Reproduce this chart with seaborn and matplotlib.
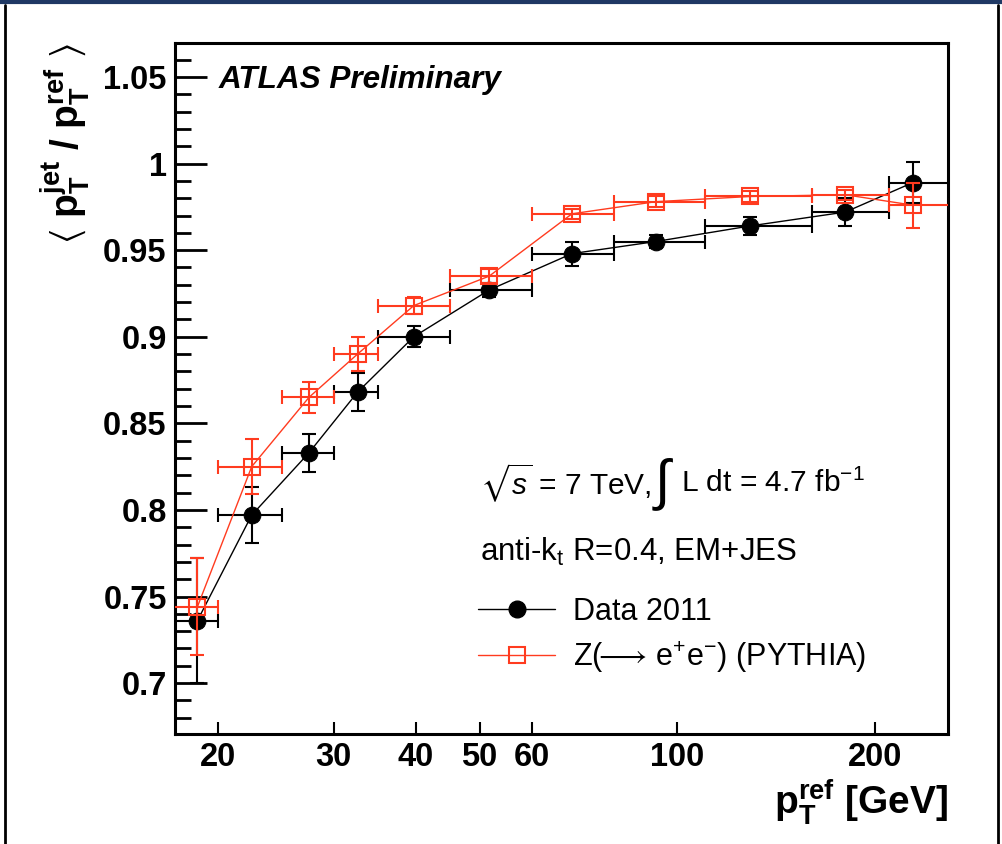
import numpy as np
import matplotlib
matplotlib.use('Agg')
import matplotlib.pyplot as plt
import seaborn as sns
from matplotlib.lines import Line2D
from matplotlib.ticker import NullLocator

# mean pT^ref per bin and the bin edges
pt_ref = [18.6, 22.5, 27.5, 32.6, 39.7, 51.7, 69.1, 92.7, 129, 180, 228]
bin_lo = [17, 20, 25, 30, 35, 45, 60, 80, 110, 160, 210]
bin_hi = [20, 25, 30, 35, 45, 60, 80, 110, 160, 210, 260]

data_2011 = [0.736, 0.797, 0.833, 0.868, 0.900, 0.927, 0.948, 0.955, 0.964, 0.972, 0.989]
data_err = [0.036, 0.016, 0.011, 0.011, 0.006, 0.004, 0.007, 0.004, 0.005, 0.008, 0.012]
pythia = [0.744, 0.825, 0.865, 0.890, 0.918, 0.935, 0.971, 0.978, 0.981, 0.982, 0.976]
pythia_err = [0.028, 0.016, 0.009, 0.010, 0.005, 0.004, 0.003, 0.003, 0.003, 0.003, 0.013]

xticks = [20, 30, 40, 50, 60, 100, 200]
yticks = [0.7, 0.75, 0.8, 0.85, 0.9, 0.95, 1.0, 1.05]

sns.set_theme(style='white')
plt.rcParams['font.family'] = ['Liberation Sans', 'DejaVu Sans']
plt.rcParams['mathtext.fontset'] = 'custom'
plt.rcParams['mathtext.rm'] = 'Liberation Sans'
plt.rcParams['mathtext.it'] = 'Liberation Sans:italic'
plt.rcParams['mathtext.bf'] = 'Liberation Sans:bold'
plt.rcParams['mathtext.fallback'] = 'stix'
for k in ['text.color', 'axes.labelcolor', 'xtick.color', 'ytick.color']:
    plt.rcParams[k] = 'black'

red = '#ff3b1f'

fig = plt.figure(figsize=(10.03, 8.44), dpi=100)
ax = fig.add_axes([0.1745, 0.1303, 0.7707, 0.8187])
ax.set_xscale('log')

x = np.array(pt_ref)
xerr = [x - np.array(bin_lo), np.array(bin_hi) - x]

sns.lineplot(x=pt_ref, y=data_2011, ax=ax, color='black', lw=1, marker='o',
             markersize=12, markeredgecolor='black', zorder=3)
ax.errorbar(pt_ref, data_2011, yerr=data_err, xerr=xerr, fmt='none', ecolor='black',
            elinewidth=1.5, capsize=5, capthick=1.5, zorder=2)

sns.lineplot(x=pt_ref, y=pythia, ax=ax, color=red, lw=1, marker='s', markersize=11,
             markerfacecolor='none', markeredgecolor=red, markeredgewidth=1.5, zorder=4)
ax.errorbar(pt_ref, pythia, yerr=pythia_err, xerr=xerr, fmt='none', ecolor=red,
            elinewidth=1.5, capsize=5, capthick=1.5, zorder=4)

ax.set_xlim(17.2, 258)
ax.set_ylim(0.6706, 1.0696)

ax.set_xticks(xticks, labels=[str(t) for t in xticks], fontweight='bold')
ax.xaxis.set_minor_locator(NullLocator())
ax.set_yticks(yticks, labels=['%g' % t for t in yticks], fontweight='bold')
ax.set_yticks(np.arange(0.68, 1.07, 0.01), minor=True)
ax.tick_params(axis='y', which='major', direction='in', length=23, width=2,
               labelsize=23.5, pad=6, left=True, right=False)
ax.tick_params(axis='y', which='minor', direction='in', length=11.5, width=2, left=True)
ax.tick_params(axis='x', which='major', direction='in', length=9, width=1.5,
               labelsize=23.5, pad=6, bottom=True, top=False)
for s in ax.spines.values():
    s.set_linewidth(2.2)
    s.set_color('black')

ax.set_xlabel(r'$\mathbf{p}_{\mathbf{T}}^{\mathbf{ref}}$ [GeV]', fontsize=28,
              fontweight='bold', loc='right', labelpad=3)
ax.set_ylabel(r'$\langle\ \mathbf{p}_{\mathbf{T}}^{\mathbf{jet}}\ \mathbf{/}\ \mathbf{p}_{\mathbf{T}}^{\mathbf{ref}}\ \rangle$',
              fontsize=28, loc='top', labelpad=8)

ax.text(0.056, 0.946, 'ATLAS Preliminary', transform=ax.transAxes, fontsize=22.7,
        fontweight='bold', style='italic', va='center')
ax.text(0.395, 0.363, r'$\sqrt{s}$ = 7 TeV,', transform=ax.transAxes, fontsize=21.5, va='center')
ax.text(0.621, 0.363, '∫', transform=ax.transAxes, fontsize=40, va='center')
ax.text(0.654, 0.363, r'L dt = 4.7 fb$^{-1}$', transform=ax.transAxes, fontsize=21.5, va='center')
ax.text(0.395, 0.263, r'anti-k$_{\rm t}$ R=0.4, EM+JES', transform=ax.transAxes,
        fontsize=22.5, va='center')

handles = [Line2D([], [], color='black', lw=1, marker='o', markersize=12),
           Line2D([], [], color=red, lw=1, marker='s', markersize=11,
                  markerfacecolor='none', markeredgewidth=1.5)]
ax.legend(handles, ['Data 2011', r'Z($\!\!\longrightarrow\!$ e$^{+}$e$^{-}$) (PYTHIA)'],
          loc='center left', bbox_to_anchor=(0.357, 0.142), frameon=False,
          fontsize=22, handlelength=2.5, handletextpad=0.6, labelspacing=0.4)

# page frame
fig.add_artist(Line2D([0, 1], [0.998, 0.998], color='#1f3864', lw=3, transform=fig.transFigure))
fig.add_artist(Line2D([0.005, 0.005], [0, 0.994], color='black', lw=2, transform=fig.transFigure))
fig.add_artist(Line2D([0.995, 0.995], [0, 0.994], color='black', lw=2, transform=fig.transFigure))

fig.savefig('out.png', dpi=100)
